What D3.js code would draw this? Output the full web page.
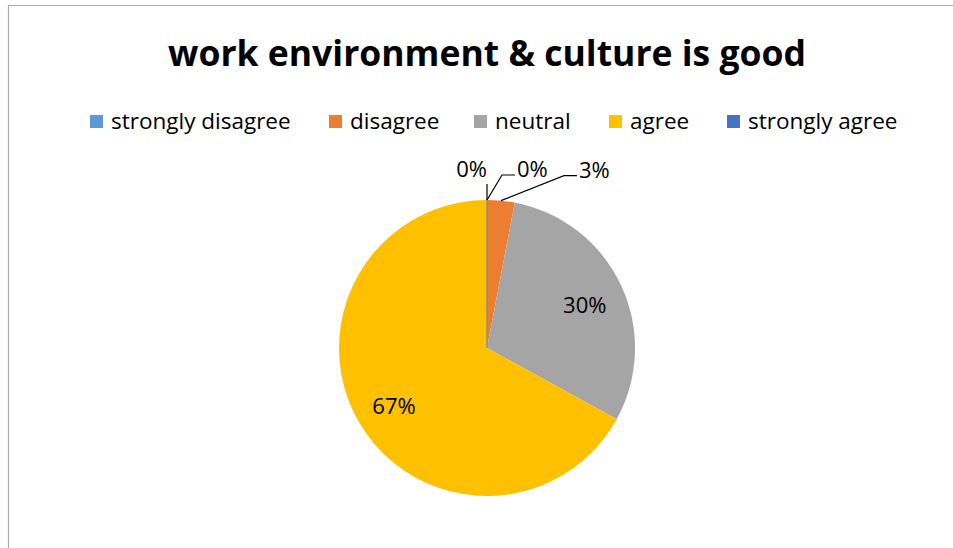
<!DOCTYPE html>
<html>
<head>
<meta charset="utf-8">
<script src="https://cdn.jsdelivr.net/npm/d3@7"></script>
<style>
  html, body { margin: 0; padding: 0; background: #fff; }
  svg { display: block; font-family: "Open Sans", Lato, sans-serif; }
</style>
</head>
<body>
<svg id="chart" width="953" height="548"></svg>
<script>
// Survey responses for "work environment & culture is good"
const categories = ["strongly disagree", "disagree", "neutral", "agree", "strongly agree"];
const percents = [0, 3, 30, 67, 0];
const colors = ["#5B9BD5", "#ED7D31", "#A5A5A5", "#FFC000", "#4472C4"];
const chartTitle = "work environment & culture is good";

const svg = d3.select("#chart");
const W = 953, H = 548;

// chart area frame (top and left edges visible)
svg.append("path")
  .attr("d", `M8.5,${H} L8.5,5.5 L${W},5.5`)
  .attr("fill", "none")
  .attr("stroke", "#ababab")
  .attr("stroke-width", 1.2);

// title
svg.append("text")
  .attr("x", 487).attr("y", 66)
  .attr("text-anchor", "middle")
  .attr("font-size", 35.5)
  .attr("font-weight", "bold")
  .attr("fill", "#000")
  .text(chartTitle);

// legend
const legendX = [90, 329, 474, 609, 727];
const legend = svg.append("g").selectAll("g")
  .data(categories)
  .join("g")
  .attr("transform", (d, i) => `translate(${legendX[i]},115)`);
legend.append("rect")
  .attr("width", 13).attr("height", 13)
  .attr("fill", (d, i) => colors[i]);
legend.append("text")
  .attr("x", 21).attr("y", 14)
  .attr("font-size", 22.5)
  .attr("fill", "#000")
  .text(d => d);

// pie
const cx = 487, cy = 348, R = 148;
const data = categories.map((c, i) => ({ name: c, value: percents[i], color: colors[i] }));
const pie = d3.pie().value(d => d.value).sort(null);
const arcs = pie(data);
const arc = d3.arc().innerRadius(0).outerRadius(R);
const labelArc = d3.arc().innerRadius(R * 0.73).outerRadius(R * 0.73);

const g = svg.append("g").attr("transform", `translate(${cx},${cy})`);
g.selectAll("path.slice")
  .data(arcs)
  .join("path")
  .attr("class", "slice")
  .attr("d", arc)
  .attr("fill", d => d.data.color)
  .attr("stroke", d => d.data.value === 0 ? "#8c8c8c" : "none")
  .attr("stroke-width", 1.3);

// inside labels for large slices
const big = arcs.filter(d => d.data.value >= 10);
g.selectAll("text.inlabel")
  .data(big)
  .join("text")
  .attr("class", "inlabel")
  .attr("transform", d => `translate(${labelArc.centroid(d)})`)
  .attr("text-anchor", "middle")
  .attr("dy", "0.48em")
  .attr("font-size", 22)
  .attr("fill", "#000")
  .text(d => d.data.value + "%");

// outside labels with leader lines for small slices
const small = arcs.filter(d => d.data.value < 10);
// offset of each label's leader end from the slice's rim point
const outside = {
  "strongly disagree": { lx: 15, ly: -25, elbow: 13, anchor: "start" },
  "disagree":          { lx: 63, ly: -25, elbow: 13, anchor: "start" },
  "strongly agree":    { lx: 0,  ly: -16, elbow: 0,  anchor: "end" }
};
small.forEach(d => {
  const a = (d.startAngle + d.endAngle) / 2;
  const px = R * Math.sin(a), py = -R * Math.cos(a);
  const o = outside[d.data.name];
  const ex = px + o.lx, ey = py + o.ly;
  const pts = o.elbow ? [[px, py], [ex, ey], [ex + o.elbow, ey]] : [[px, py], [ex, ey]];
  g.append("path")
    .attr("d", d3.line()(pts))
    .attr("fill", "none")
    .attr("stroke", "#000")
    .attr("stroke-width", 1.2);
  g.append("text")
    .attr("x", o.elbow ? ex + o.elbow + 2 : ex)
    .attr("y", o.elbow ? ey + 2 : ey - 7)
    .attr("text-anchor", o.anchor)
    .attr("font-size", 22)
    .attr("fill", "#000")
    .text(d.data.value + "%");
});
</script>
</body>
</html>
